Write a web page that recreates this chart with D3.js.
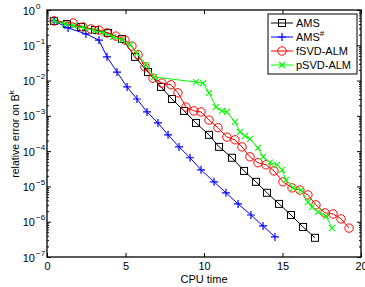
<!DOCTYPE html>
<html><head><meta charset="utf-8">
<script src="https://cdn.jsdelivr.net/npm/d3@7"></script>
<style>
body{margin:0;background:#fff;}
svg text{font-family:"Liberation Sans",Arial,sans-serif;fill:#000;}
</style></head>
<body><svg id="c" width="365" height="287"></svg>
<script>
const seriesNames = ["AMS","AMS#","fSVD-ALM","pSVD-ALM"];
const amsX = [0.45,1.27,2.17,3.06,3.89,4.78,5.61,6.43,7.26,7.96,8.73,9.49,10.32,10.96,11.78,12.55,13.31,14.01,14.78,15.54,16.31,17.07];
const amsY = [4.9e-1,4.0e-1,3.3e-1,2.7e-1,2.24e-1,1.51e-1,4.7e-2,1.74e-2,6.6e-3,3.0e-3,1.38e-3,6.3e-4,2.9e-4,1.32e-4,6.5e-5,2.75e-5,1.35e-5,6.6e-6,3.2e-6,1.55e-6,7.1e-7,3.5e-7];
const amsSharpX = [0.45,1.34,2.48,3.31,3.82,4.46,5.10,5.73,6.37,7.07,7.71,8.41,9.11,9.81,10.64,11.40,12.17,12.99,13.76,14.52];
const amsSharpY = [4.9e-1,3.1e-1,2.1e-1,1.4e-1,4.7e-2,1.74e-2,6.6e-3,3.0e-3,1.29e-3,6.3e-4,2.9e-4,1.32e-4,6.5e-5,2.95e-5,1.35e-5,6.6e-6,3.2e-6,1.55e-6,7.6e-7,3.7e-7];
const fsvdX = [0.45,1.66,2.29,2.80,3.31,3.82,4.39,4.97,5.41,5.80,6.24,6.75,7.32,7.90,8.34,8.85,9.36,9.81,10.32,10.89,11.46,11.97,12.42,12.93,13.44,13.95,14.46,15.03,15.61,16.11,16.62,17.13,17.71,18.22,18.73,19.24];
const fsvdY = [4.9e-1,4.3e-1,3.3e-1,2.9e-1,2.7e-1,2.24e-1,1.82e-1,1.41e-1,9.5e-2,5.4e-2,2.45e-2,1.17e-2,8.5e-3,7.6e-3,4.5e-3,1.78e-3,1.38e-3,1.29e-3,7.6e-4,4.6e-4,2.5e-4,2.1e-4,1.32e-4,6.9e-5,4.7e-5,4.1e-5,2.75e-5,1.35e-5,9.1e-6,7.9e-6,5.75e-6,3.0e-6,1.78e-6,1.66e-6,1.2e-6,6.6e-7];
const psvdX = [0.45,1.15,1.72,2.36,3.06,3.63,4.20,4.78,5.29,5.73,6.31,6.82,9.49,9.94,10.32,10.76,11.15,11.46,11.97,12.29,12.61,12.93,13.44,13.76,14.20,14.65,14.97,15.22,15.67,16.18,16.62,16.88,17.26,17.77,18.15];
const psvdY = [4.9e-1,4.0e-1,3.55e-1,3.1e-1,2.57e-1,2.24e-1,1.74e-1,1.41e-1,1.02e-1,6.0e-2,2.75e-2,1.26e-2,9.1e-3,8.5e-3,4.5e-3,1.78e-3,1.38e-3,1.29e-3,6.8e-4,3.5e-4,2.7e-4,2.24e-4,1.23e-4,6.9e-5,4.7e-5,4.1e-5,2.95e-5,1.51e-5,9.1e-6,7.9e-6,3.6e-6,2.6e-6,1.9e-6,1.45e-6,6.6e-7];
const xTicks = [0,5,10,15,20];
const yExponents = [0,-1,-2,-3,-4,-5,-6,-7];
const xLabel = "CPU time";
const yLabel = "relative error on B";

const L=47,R=361,T=10,B=257;
const svg = d3.select("#c");
const x = d3.scaleLinear().domain([0,20]).range([L,R]);
const y = d3.scaleLog().domain([1e-7,1]).range([B,T]);

const series = [
  {name:seriesNames[0], xs:amsX, ys:amsY, color:"#000000", marker:"square"},
  {name:seriesNames[1], xs:amsSharpX, ys:amsSharpY, color:"#0000ff", marker:"plus"},
  {name:seriesNames[2], xs:fsvdX, ys:fsvdY, color:"#ff0000", marker:"circle"},
  {name:seriesNames[3], xs:psvdX, ys:psvdY, color:"#00ff00", marker:"cross"}
];

const plot = svg.append("g");
const line = d3.line().x(d=>x(d[0])).y(d=>y(d[1]));
function drawMarker(g, type, cx, cy, color){
  if(type==="square"){
    g.append("rect").attr("x",cx-3.5).attr("y",cy-3.5).attr("width",7).attr("height",7)
     .attr("fill","none").attr("stroke",color).attr("stroke-width",1);
  } else if(type==="circle"){
    g.append("circle").attr("cx",cx).attr("cy",cy).attr("r",4.2)
     .attr("fill","none").attr("stroke",color).attr("stroke-width",1);
  } else if(type==="plus"){
    g.append("path").attr("d",`M${cx-4},${cy}H${cx+4}M${cx},${cy-4}V${cy+4}`)
     .attr("stroke",color).attr("stroke-width",1.2);
  } else if(type==="cross"){
    g.append("path").attr("d",`M${cx-3},${cy-3}L${cx+3},${cy+3}M${cx-3},${cy+3}L${cx+3},${cy-3}`)
     .attr("stroke",color).attr("stroke-width",1.1);
  }
}
series.forEach(s=>{
  const pts = s.xs.map((v,i)=>[v,s.ys[i]]);
  plot.append("path").datum(pts).attr("d",line).attr("fill","none")
      .attr("stroke",s.color).attr("stroke-width",1);
  const mg = plot.append("g");
  pts.forEach(p=>drawMarker(mg,s.marker,x(p[0]),y(p[1]),s.color));
});

// axes
const ax = svg.append("g").attr("stroke","#000");
ax.append("g").attr("transform",`translate(0,${B})`)
  .call(d3.axisBottom(x).tickValues(xTicks).tickSizeInner(-4).tickSizeOuter(0).tickPadding(5).tickFormat(d3.format("d")))
  .call(g=>{g.select(".domain").remove(); g.selectAll("text").attr("font-size",11).attr("stroke","none");});
ax.append("g").attr("transform",`translate(0,${T})`)
  .call(d3.axisTop(x).tickValues(xTicks).tickSizeInner(-4).tickSizeOuter(0).tickFormat(""))
  .call(g=>g.select(".domain").remove());
const majors = yExponents.map(e=>Math.pow(10,e));
const minors = [];
for(let e=-7;e<0;e++) for(let m=2;m<=9;m++) minors.push(m*Math.pow(10,e));
ax.append("g").attr("transform",`translate(${L},0)`)
  .call(d3.axisLeft(y).tickValues(majors).tickSizeInner(-4).tickSizeOuter(0).tickFormat(""))
  .call(g=>g.select(".domain").remove());
ax.append("g").attr("transform",`translate(${L},0)`)
  .call(d3.axisLeft(y).tickValues(minors).tickSizeInner(-2).tickSizeOuter(0).tickFormat(""))
  .call(g=>g.select(".domain").remove());
ax.append("g").attr("transform",`translate(${R},0)`)
  .call(d3.axisRight(y).tickValues(majors).tickSizeInner(-4).tickSizeOuter(0).tickFormat(""))
  .call(g=>g.select(".domain").remove());
ax.append("g").attr("transform",`translate(${R},0)`)
  .call(d3.axisRight(y).tickValues(minors).tickSizeInner(-2).tickSizeOuter(0).tickFormat(""))
  .call(g=>g.select(".domain").remove());
svg.append("rect").attr("x",L).attr("y",T).attr("width",R-L).attr("height",B-T)
  .attr("fill","none").attr("stroke","#000").attr("stroke-width",1.3);

// y tick labels
const yl = svg.append("g");
yExponents.forEach(e=>{
  const yy = y(Math.pow(10,e));
  yl.append("text").attr("x",35).attr("y",yy+4.5).attr("text-anchor","end").attr("font-size",11).text("10");
  yl.append("text").attr("x",36).attr("y",yy-1.5).attr("font-size",8).text(e===0?"0":"\u2212"+(-e));
});

// axis labels
svg.append("text").attr("x",(L+R)/2).attr("y",283).attr("text-anchor","middle").attr("font-size",11).text(xLabel);
const ylab = svg.append("text").attr("transform",`translate(19,134) rotate(-90)`)
  .attr("text-anchor","middle").attr("font-size",10.5);
ylab.append("tspan").text(yLabel);
ylab.append("tspan").attr("font-size",8).attr("dy",-5).text("k");

// legend
const lg = svg.append("g");
lg.append("rect").attr("x",268).attr("y",14).attr("width",89).attr("height",60)
  .attr("fill","#fff").attr("stroke","#000").attr("stroke-width",1);
series.forEach((s,i)=>{
  const yy = 23 + i*14;
  lg.append("line").attr("x1",271).attr("x2",293).attr("y1",yy).attr("y2",yy).attr("stroke",s.color).attr("stroke-width",1);
  drawMarker(lg,s.marker,282,yy,s.color);
  const t = lg.append("text").attr("x",296).attr("y",yy+4).attr("font-size",11);
  if(s.name.endsWith("#")){
    t.append("tspan").text(s.name.slice(0,-1));
    t.append("tspan").attr("font-size",8).attr("dy",-5).text("#");
  } else t.text(s.name);
});
</script></body></html>
